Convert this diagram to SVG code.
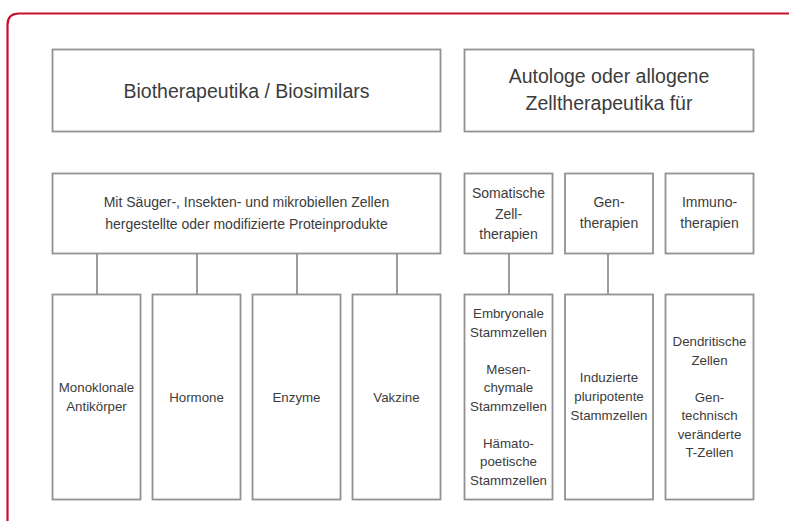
<svg xmlns="http://www.w3.org/2000/svg" width="789" height="521" viewBox="0 0 789 521">
  <style>
    .frame { fill: none; stroke: #c8102e; stroke-width: 2.2; }
    .box { fill: #ffffff; stroke: #929292; stroke-width: 1.8; }
    .link { fill: none; stroke: #929292; stroke-width: 1.8; }
    text { font-family: "Liberation Sans", Arial, sans-serif; fill: #3c3c3c; text-anchor: middle; }
    .t1 { font-size: 19.5px; }
    .t2 { font-size: 14px; }
    .t3 { font-size: 13.3px; }
  </style>
  <rect width="789" height="521" fill="#ffffff"/>
  <!-- outer card border, running off the right and bottom edges -->
  <path class="frame" d="M7.5 540 V25 Q7.5 13.5 19 13.5 H800"/>

  <g id="connectors">
    <line class="link" x1="97" y1="254" x2="97" y2="294"/>
    <line class="link" x1="197" y1="254" x2="197" y2="294"/>
    <line class="link" x1="297" y1="254" x2="297" y2="294"/>
    <line class="link" x1="397" y1="254" x2="397" y2="294"/>
    <line class="link" x1="509" y1="254" x2="509" y2="294"/>
    <line class="link" x1="608" y1="254" x2="608" y2="294"/>
  </g>

  <g id="biotherapeutika">
    <rect class="box" x="52.5" y="49.5" width="388" height="82"/>
    <text class="t1" x="246.5" y="98">Biotherapeutika / Biosimilars</text>
  </g>
  <g id="zelltherapeutika">
    <rect class="box" x="464.5" y="49.5" width="289" height="82"/>
    <text class="t1" x="609" y="83">Autologe oder allogene</text>
    <text class="t1" x="609" y="110">Zelltherapeutika für</text>
  </g>

  <g id="proteinprodukte">
    <rect class="box" x="52.5" y="173.5" width="388" height="80"/>
    <text class="t2" x="246.5" y="207">Mit Säuger-, Insekten- und mikrobiellen Zellen</text>
    <text class="t2" x="246.5" y="229">hergestellte oder modifizierte Proteinprodukte</text>
  </g>
  <g id="somatische">
    <rect class="box" x="464.5" y="173.5" width="88" height="80"/>
    <text class="t2" x="508.5" y="198">Somatische</text>
    <text class="t2" x="508.5" y="218.5">Zell-</text>
    <text class="t2" x="508.5" y="239">therapien</text>
  </g>
  <g id="gentherapien">
    <rect class="box" x="565" y="173.5" width="88" height="80"/>
    <text class="t2" x="609" y="207">Gen-</text>
    <text class="t2" x="609" y="228">therapien</text>
  </g>
  <g id="immunotherapien">
    <rect class="box" x="665.5" y="173.5" width="88" height="80"/>
    <text class="t2" x="709.5" y="207">Immuno-</text>
    <text class="t2" x="709.5" y="228">therapien</text>
  </g>

  <g id="antikoerper">
    <rect class="box" x="52.5" y="294.5" width="88" height="205"/>
    <text class="t3" x="96.5" y="392">Monoklonale</text>
    <text class="t3" x="96.5" y="411">Antikörper</text>
  </g>
  <g id="hormone">
    <rect class="box" x="152.5" y="294.5" width="88" height="205"/>
    <text class="t3" x="196.5" y="402">Hormone</text>
  </g>
  <g id="enzyme">
    <rect class="box" x="252.5" y="294.5" width="88" height="205"/>
    <text class="t3" x="296.5" y="402">Enzyme</text>
  </g>
  <g id="vakzine">
    <rect class="box" x="352.5" y="294.5" width="88" height="205"/>
    <text class="t3" x="396.5" y="402">Vakzine</text>
  </g>

  <g id="stammzellen">
    <rect class="box" x="464.5" y="294.5" width="88" height="205"/>
    <text class="t3" x="508.5" y="318">Embryonale</text>
    <text class="t3" x="508.5" y="336.5">Stammzellen</text>
    <text class="t3" x="508.5" y="373.5">Mesen-</text>
    <text class="t3" x="508.5" y="392">chymale</text>
    <text class="t3" x="508.5" y="410.5">Stammzellen</text>
    <text class="t3" x="508.5" y="447.5">Hämato-</text>
    <text class="t3" x="508.5" y="466">poetische</text>
    <text class="t3" x="508.5" y="484.5">Stammzellen</text>
  </g>
  <g id="ips-zellen">
    <rect class="box" x="565" y="294.5" width="88" height="205"/>
    <text class="t3" x="609" y="382">Induzierte</text>
    <text class="t3" x="609" y="401">pluripotente</text>
    <text class="t3" x="609" y="420">Stammzellen</text>
  </g>
  <g id="immunzellen">
    <rect class="box" x="665.5" y="294.5" width="88" height="205"/>
    <text class="t3" x="709.5" y="346">Dendritische</text>
    <text class="t3" x="709.5" y="364.5">Zellen</text>
    <text class="t3" x="709.5" y="401.5">Gen-</text>
    <text class="t3" x="709.5" y="420">technisch</text>
    <text class="t3" x="709.5" y="438.5">veränderte</text>
    <text class="t3" x="709.5" y="457">T-Zellen</text>
  </g>
</svg>
